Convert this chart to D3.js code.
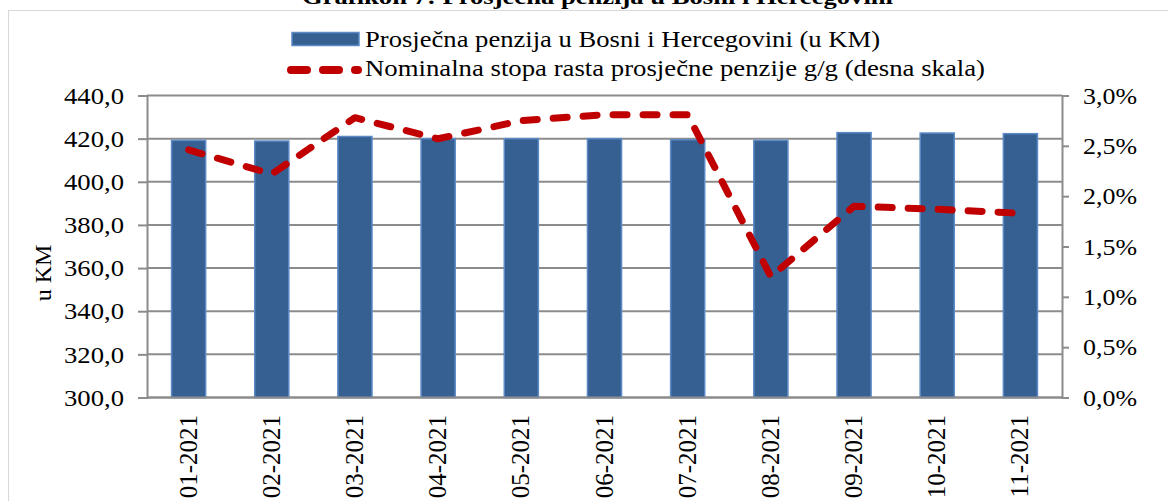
<!DOCTYPE html>
<html>
<head>
  <meta charset="utf-8">
  <title>Grafikon 7</title>
  <script src="https://d3js.org/d3.v7.min.js"></script>
  <style>
    body { margin: 0; background: #fff; }
    text { font-family: "Liberation Serif", "Times New Roman", serif; fill: #000; }
  </style>
</head>
<body>
  <script>

// data
const months = ["01-2021", "02-2021", "03-2021", "04-2021", "05-2021", "06-2021",
                "07-2021", "08-2021", "09-2021", "10-2021", "11-2021"];
const pension = [419.2, 418.9, 421.0, 420.0, 420.0, 420.0, 419.5, 419.2, 422.8, 422.6, 422.3];
const growth = [2.46, 2.22, 2.78, 2.57, 2.75, 2.81, 2.81, 1.20, 1.90, 1.87, 1.83];
const leftTicks = [300, 320, 340, 360, 380, 400, 420, 440];
const rightTicks = [0, 0.5, 1.0, 1.5, 2.0, 2.5, 3.0];

const W = 1168, H = 501;
const plot = { left: 147, right: 1062, top: 95.5, bottom: 397.5 };

const svg = d3.select("body").append("svg")
  .attr("width", W)
  .attr("height", H);

// outer chart frame
svg.append("rect")
  .attr("x", 8.5).attr("y", 10.5)
  .attr("width", W + 10).attr("height", H + 10)
  .attr("fill", "none")
  .attr("stroke", "#d9d9d9")
  .attr("stroke-width", 1);

// title, cut off at the top like in the source
svg.append("text")
  .attr("x", 302).attr("y", 4)
  .attr("font-size", 22)
  .attr("font-weight", "bold")
  .attr("textLength", 591)
  .attr("lengthAdjust", "spacingAndGlyphs")
  .text("Grafikon 7: Prosječna penzija u Bosni i Hercegovini");

const x = d3.scaleBand()
  .domain(months)
  .range([plot.left, plot.right])
  .paddingInner(0.59)
  .paddingOuter(0.295);

const y = d3.scaleLinear().domain([300, 440]).range([plot.bottom, plot.top]);
const y2 = d3.scaleLinear().domain([0, 3]).range([plot.bottom, plot.top]);

const fmt1 = v => d3.format(".1f")(v).replace(".", ",");

// gridlines
svg.append("g")
  .selectAll("line")
  .data(leftTicks)
  .join("line")
  .attr("x1", plot.left).attr("x2", plot.right)
  .attr("y1", d => y(d)).attr("y2", d => y(d))
  .attr("stroke", "#8c8c8c")
  .attr("stroke-width", 2);

// left axis
const leftAxis = svg.append("g")
  .attr("transform", `translate(${plot.left},0)`)
  .call(d3.axisLeft(y).tickValues(leftTicks).tickSize(9).tickPadding(14).tickFormat(fmt1));
leftAxis.select(".domain").attr("stroke", "#8c8c8c").attr("stroke-width", 2);
leftAxis.selectAll(".tick line").attr("stroke", "#8c8c8c").attr("stroke-width", 2);
leftAxis.selectAll("text")
  .attr("font-size", 24)
  .attr("font-family", "Liberation Serif, Times New Roman, serif")
  .attr("fill", "#000")
  .attr("textLength", 60)
  .attr("lengthAdjust", "spacingAndGlyphs");

// right axis
const rightAxis = svg.append("g")
  .attr("transform", `translate(${plot.right},0)`)
  .call(d3.axisRight(y2).tickValues(rightTicks).tickSize(7).tickPadding(14)
    .tickFormat(v => fmt1(v) + "%"));
rightAxis.select(".domain").attr("stroke", "#8c8c8c").attr("stroke-width", 2);
rightAxis.selectAll(".tick line").attr("stroke", "#8c8c8c").attr("stroke-width", 2);
rightAxis.selectAll("text")
  .attr("font-size", 24)
  .attr("font-family", "Liberation Serif, Times New Roman, serif")
  .attr("fill", "#000")
  .attr("textLength", 54)
  .attr("lengthAdjust", "spacingAndGlyphs");

// bars
svg.append("g")
  .selectAll("rect")
  .data(months)
  .join("rect")
  .attr("x", d => x(d))
  .attr("y", (d, i) => y(pension[i]))
  .attr("width", x.bandwidth())
  .attr("height", (d, i) => y(300) - y(pension[i]))
  .attr("fill", "#376092")
  .attr("stroke", "#5b8ac6")
  .attr("stroke-width", 1.5);

// bottom axis line
svg.append("line")
  .attr("x1", plot.left).attr("x2", plot.right)
  .attr("y1", plot.bottom).attr("y2", plot.bottom)
  .attr("stroke", "#8c8c8c")
  .attr("stroke-width", 2);

// x labels, rotated
svg.append("g")
  .selectAll("text")
  .data(months)
  .join("text")
  .attr("transform", d => `translate(${x(d) + x.bandwidth() / 2 + 8},415) rotate(-90)`)
  .attr("text-anchor", "end")
  .attr("font-size", 25)
  .text(d => d);

// growth line
const line = d3.line()
  .x((d, i) => x(months[i]) + x.bandwidth() / 2)
  .y(d => y2(d));

svg.append("path")
  .datum(growth)
  .attr("d", line)
  .attr("fill", "none")
  .attr("stroke", "#c00000")
  .attr("stroke-width", 7)
  .attr("stroke-linecap", "round")
  .attr("stroke-linejoin", "round")
  .attr("stroke-dasharray", "14,16");

// y axis title
svg.append("text")
  .attr("transform", "translate(51,273) rotate(-90)")
  .attr("text-anchor", "middle")
  .attr("font-size", 24)
  .text("u KM");

// legend
const legend = svg.append("g");
legend.append("rect")
  .attr("x", 292).attr("y", 32.5)
  .attr("width", 67).attr("height", 13)
  .attr("fill", "#376092")
  .attr("stroke", "#5b8ac6")
  .attr("stroke-width", 1.5);
legend.append("text")
  .attr("x", 365).attr("y", 47)
  .attr("font-size", 23)
  .attr("textLength", 515)
  .attr("lengthAdjust", "spacingAndGlyphs")
  .text("Prosječna penzija u Bosni i Hercegovini (u KM)");
legend.append("line")
  .attr("x1", 291).attr("x2", 358)
  .attr("y1", 70).attr("y2", 70)
  .attr("stroke", "#c00000")
  .attr("stroke-width", 8)
  .attr("stroke-linecap", "round")
  .attr("stroke-dasharray", "16,16");
legend.append("text")
  .attr("x", 365).attr("y", 76)
  .attr("font-size", 23)
  .attr("textLength", 620)
  .attr("lengthAdjust", "spacingAndGlyphs")
  .text("Nominalna stopa rasta prosječne penzije g/g (desna skala)");

  </script>
</body>
</html>
